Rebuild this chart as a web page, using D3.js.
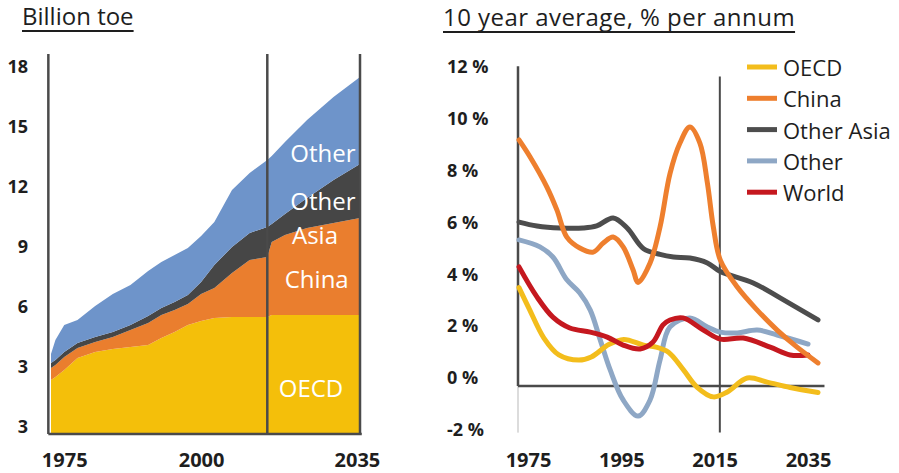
<!DOCTYPE html>
<html>
<head>
<meta charset="utf-8">
<script src="https://cdn.jsdelivr.net/npm/d3@7/dist/d3.min.js"></script>
<style>
  body { margin: 0; background: #fff; }
  svg text { font-family: "Open Sans", sans-serif; fill: #1e1e1e; }
  .tick text { font-weight: bold; }
</style>
</head>
<body>
<svg id="chart" width="899" height="473"></svg>
<script>
// ---- Left panel: stacked energy demand, billion toe ----
const years      = [1965, 1966, 1968, 1971, 1975, 1979, 1983, 1987, 1990, 1993, 1996, 1999, 2002, 2006, 2010, 2014, 2015, 2018, 2023, 2029, 2035];
const oecd       = [2.7, 2.85, 3.2, 3.8, 4.1, 4.25, 4.35, 4.45, 4.8, 5.1, 5.45, 5.65, 5.8, 5.85, 5.85, 5.85, 5.95, 5.95, 5.95, 5.95, 5.95];
const china      = [0.6, 0.6, 0.65, 0.5, 0.5, 0.6, 0.85, 1.1, 1.15, 1.1, 1.05, 1.35, 1.5, 2.2, 2.85, 3.0, 3.65, 4.0, 4.35, 4.6, 4.85];
const otherAsia  = [0.25, 0.25, 0.25, 0.25, 0.25, 0.25, 0.25, 0.35, 0.35, 0.4, 0.45, 0.6, 1.15, 1.3, 1.35, 1.5, 0.9, 1.05, 1.5, 2.15, 2.7];
const other      = [0.45, 1.0, 1.35, 1.15, 1.55, 1.9, 2.0, 2.25, 2.3, 2.35, 2.35, 2.3, 2.15, 2.85, 3.0, 3.35, 3.4, 3.6, 3.9, 4.15, 4.35];

const leftTicks      = [0, 3, 6, 9, 12, 15, 18];
const leftTickLabels = ["3", "3", "6", "9", "12", "15", "18"];
const leftXLabels    = ["1975", "2000", "2035"];
const leftXLabelAt   = [1968, 1999, 2034.3];

// labels written inside the areas (year, value)
const areaLabels = [
  {text: "Other", year: 2026.6, value: 14.1},
  {text: "Other", year: 2026.6, value: 11.7},
  {text: "Asia",  year: 2024.8, value: 10.0},
  {text: "China", year: 2025.2, value: 7.8},
  {text: "OECD",  year: 2023.9, value: 2.35}
];

// ---- Right panel: 10 year average growth, % p.a. ----
const oecdGrowth = [[1975,3.8],[1977,3.0],[1980,1.85],[1983,1.2],[1987,1.0],[1989.5,1.12],[1993,1.6],[1996,1.8],[2000,1.58],[2002.5,1.5],[2005,1.3],[2008,0.62],[2010.7,-0.04],[2014,-0.42],[2016.8,-0.23],[2020.8,0.31],[2024.8,0.15],[2029.4,-0.06],[2035,-0.25]];
const chinaGrowth = [[1975,9.5],[1977.2,8.85],[1980.6,7.68],[1982.6,6.8],[1984.6,5.75],[1987.2,5.33],[1989.9,5.17],[1991.9,5.52],[1993.9,5.75],[1995.9,5.37],[1997.9,4.48],[1998.9,4.0],[2001.3,4.75],[2003.3,6.14],[2005.3,8.2],[2007.3,9.38],[2009.3,10.0],[2011.3,9.38],[2012.8,7.84],[2014,6.14],[2015.4,4.86],[2018.8,3.82],[2022.8,2.93],[2026.8,2.16],[2030.8,1.5],[2035,0.89]];
const otherAsiaGrowth = [[1975,6.33],[1978.6,6.18],[1983.2,6.1],[1987.9,6.1],[1990.6,6.18],[1993.9,6.49],[1996.7,6.1],[2000,5.3],[2003.3,5.08],[2006,4.98],[2009.3,4.94],[2012.8,4.75],[2015.4,4.42],[2022,3.98],[2027.4,3.4],[2035,2.55]];
const otherGrowth = [[1975,5.64],[1979.2,5.37],[1981.8,4.98],[1984.6,4.1],[1987.2,3.59],[1989.3,2.93],[1991.3,1.78],[1993.3,0.62],[1995.9,-0.54],[1998.9,-1.16],[2001.3,-0.54],[2003.3,1.0],[2005.3,2.28],[2009.3,2.63],[2012.8,2.28],[2015.4,2.08],[2018.8,2.05],[2022.8,2.16],[2026.8,1.97],[2033,1.62]];
const worldGrowth = [[1975,4.6],[1978.6,3.44],[1981.8,2.66],[1985.2,2.24],[1989.3,2.08],[1992.7,1.89],[1995.9,1.58],[1999.3,1.43],[2001.9,1.7],[2003.9,2.36],[2005.3,2.55],[2007.9,2.63],[2012,2.16],[2015.4,1.81],[2020,1.85],[2025.4,1.5],[2029.4,1.2],[2033,1.2]];

const rightTicks  = [-2, 0, 2, 4, 6, 8, 10, 12];
const rightXTicks = [1975, 1995, 2015, 2035];

const seriesNames = ["OECD", "China", "Other Asia", "Other", "World"];

// couleurs
const areaColor = {oecd: "#f4bf0a", china: "#ea7e2e", otherAsia: "#464646", other: "#6e94ca"};
const lineColor = {"OECD": "#f3bd1c", "China": "#ee7f2e", "Other Asia": "#4d4d4d", "Other": "#8ea7c5", "World": "#c5181f"};
const axisColor = "#4a4a4a";

const svg = d3.select("#chart");

// ===================== Left panel =====================
const xL = d3.scaleLinear().domain([1965, 2035]).range([51, 360]);
const yL = d3.scaleLinear().domain([0, 18]).range([434, 74]);

const table = years.map((y, i) => ({year: y, oecd: oecd[i], china: china[i], otherAsia: otherAsia[i], other: other[i]}));
const stack = d3.stack().keys(["oecd", "china", "otherAsia", "other"]);
const layers = stack(table);

const area = d3.area()
  .x(d => xL(d.data.year))
  .y0(d => yL(d[0]))
  .y1(d => yL(d[1]));

svg.append("g")
   .selectAll("path")
   .data(layers)
   .enter()
   .append("path")
   .attr("d", area)
   .attr("fill", d => areaColor[d.key]);

svg.append("g")
   .selectAll("text")
   .data(areaLabels)
   .enter()
   .append("text")
   .attr("x", d => xL(d.year))
   .attr("y", d => yL(d.value))
   .attr("text-anchor", "middle")
   .attr("dominant-baseline", "central")
   .style("font-size", "24px")
   .style("fill", "#fff")
   .text(d => d.text);

// frame lines
const leftFrame = svg.append("g").attr("stroke", axisColor).attr("stroke-width", 2.5);
[1964.4, 2014, 2035].forEach(yr => {
  leftFrame.append("line")
           .attr("x1", xL(yr)).attr("x2", xL(yr))
           .attr("y1", yL(19)).attr("y2", yL(0));
});
leftFrame.append("line")
         .attr("x1", xL(1964.4)).attr("x2", xL(2035.4))
         .attr("y1", yL(0)).attr("y2", yL(0));

// y axis labels (right aligned)
svg.append("g")
   .attr("transform", "translate(28,-7)")
   .call(d3.axisLeft(yL).tickValues(leftTicks).tickSize(0).tickPadding(0)
           .tickFormat((d, i) => leftTickLabels[i]))
   .call(g => g.select(".domain").remove())
   .selectAll("text")
   .style("font-size", "18px")
   .style("fill", "#1e1e1e");

// x axis labels
svg.append("g")
   .attr("transform", "translate(0,467)")
   .call(d3.axisBottom(xL).tickValues(leftXLabelAt).tickSize(0).tickPadding(0)
           .tickFormat((d, i) => leftXLabels[i]))
   .call(g => g.select(".domain").remove())
   .selectAll("text")
   .attr("y", 0).attr("dy", null)
   .style("font-size", "20px")
   .style("fill", "#1e1e1e");

// ===================== Right panel =====================
const xR = d3.scaleLinear().domain([1975, 2035]).range([519, 818]);
const yR = d3.scaleLinear().domain([0, 12]).range([386, 75.2]);
const xRLab = d3.scaleLinear().domain([1975, 2035]).range([528, 808]);

const rightFrame = svg.append("g");
rightFrame.append("line")
          .attr("x1", xR(1974.8)).attr("x2", xR(1974.8))
          .attr("y1", yR(0)).attr("y2", yR(-1.8))
          .attr("stroke", "#dcdcdc").attr("stroke-width", 2);
rightFrame.append("line")
          .attr("x1", xR(1974.8)).attr("x2", xR(1974.8))
          .attr("y1", yR(12.35)).attr("y2", yR(0))
          .attr("stroke", axisColor).attr("stroke-width", 2.5);
rightFrame.append("line")
          .attr("x1", xR(2015.3)).attr("x2", xR(2015.3))
          .attr("y1", yR(11.95)).attr("y2", yR(-1.8))
          .attr("stroke", axisColor).attr("stroke-width", 2);
rightFrame.append("line")
          .attr("x1", xR(1974.8)).attr("x2", xR(2036.3))
          .attr("y1", yR(0)).attr("y2", yR(0))
          .attr("stroke", axisColor).attr("stroke-width", 2.5);

const line = d3.line()
  .x(d => xR(d[0]))
  .y(d => yR(d[1]))
  .curve(d3.curveCatmullRom.alpha(0.5));

const growth = [
  {name: "Other", values: otherGrowth},
  {name: "OECD", values: oecdGrowth},
  {name: "World", values: worldGrowth},
  {name: "Other Asia", values: otherAsiaGrowth},
  {name: "China", values: chinaGrowth}
];

svg.append("g")
   .selectAll("path")
   .data(growth)
   .enter()
   .append("path")
   .attr("d", d => line(d.values))
   .attr("fill", "none")
   .attr("stroke", d => lineColor[d.name])
   .attr("stroke-width", 5)
   .attr("stroke-linecap", "round")
   .attr("stroke-linejoin", "round");

// y axis labels (left aligned)
svg.append("g")
   .attr("transform", "translate(447,-8)")
   .call(d3.axisLeft(yR).tickValues(rightTicks).tickSize(0).tickPadding(0)
           .tickFormat(d => `${d} %`))
   .call(g => g.select(".domain").remove())
   .selectAll("text")
   .attr("text-anchor", "start")
   .attr("x", 0)
   .style("font-size", "18px")
   .style("fill", "#1e1e1e");

svg.append("g")
   .attr("transform", "translate(0,467)")
   .call(d3.axisBottom(xRLab).tickValues(rightXTicks).tickSize(0).tickPadding(0)
           .tickFormat(d => `${d}`))
   .call(g => g.select(".domain").remove())
   .selectAll("text")
   .attr("y", 0).attr("dy", null)
   .style("font-size", "20px")
   .style("fill", "#1e1e1e");

// legend
const legend = svg.append("g")
  .selectAll("g")
  .data(seriesNames)
  .enter()
  .append("g")
  .attr("transform", (d, i) => `translate(747,${67 + i * 31.3})`);

legend.append("line")
      .attr("x1", 0).attr("x2", 30)
      .attr("stroke", d => lineColor[d])
      .attr("stroke-width", 5);

legend.append("text")
      .attr("x", 36)
      .attr("dominant-baseline", "central")
      .style("font-size", "22px")
      .text(d => d);

// titles (underlined)
const titles = [
  {text: "Billion toe", x: 22, y: 25, spacing: 0},
  {text: "10 year average, % per annum", x: 443, y: 26, spacing: 0.45}
];
titles.forEach(t => {
  const txt = svg.append("text")
                 .attr("x", t.x)
                 .attr("y", t.y)
                 .style("font-size", "24px")
                 .style("letter-spacing", `${t.spacing}px`)
                 .text(t.text);
  const w = txt.node().getComputedTextLength();
  svg.append("line")
     .attr("x1", t.x).attr("x2", t.x + w)
     .attr("y1", t.y + 6).attr("y2", t.y + 6)
     .attr("stroke", "#1e1e1e")
     .attr("stroke-width", 2);
});
</script>
</body>
</html>
